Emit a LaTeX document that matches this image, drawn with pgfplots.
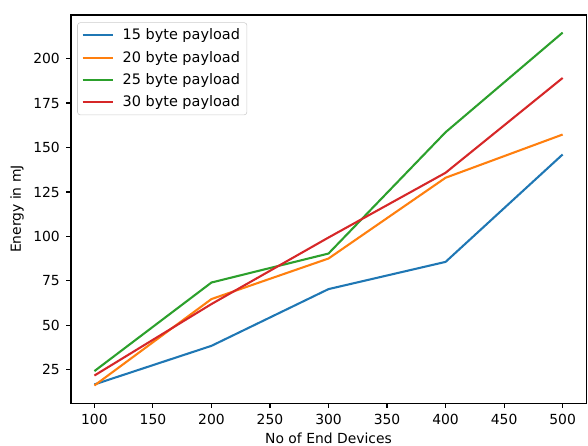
\documentclass[border=0pt]{standalone}
\usepackage{pgfplots}
\pgfplotsset{compat=1.18}
\usepackage{fontspec}
\setmainfont{DejaVu Sans}

\definecolor{mplblue}{HTML}{1F77B4}
\definecolor{mplorange}{HTML}{FF7F0E}
\definecolor{mplgreen}{HTML}{2CA02C}
\definecolor{mplred}{HTML}{D62728}

\begin{document}
\begin{tikzpicture}
    \begin{axis}
    [
        scale only axis,
        width=370.8pt,
        height=279.4pt,
        xmin=80, xmax=520,
        ymin=6.3, ymax=224.5,
        xtick={100,150,...,500},
        ytick={25,50,...,200},
        tick pos=left,
        tick align=outside,
        major tick length=3.5pt,
        every tick/.style={black, line width=0.8pt},
        axis line style={line width=0.8pt},
        /pgf/number format/assume math mode=true,
        tick label style={font=\fontsize{10}{12}\selectfont},
        xticklabel style={yshift=-1pt},
        yticklabel style={xshift=-1pt},
        label style={font=\fontsize{10}{12}\selectfont},
        xlabel style={yshift=1.2pt},
        xlabel={No of End Devices},
        ylabel={Energy in mJ},
        legend cell align=left,
        legend style={
            at={(0,1)}, anchor=north west,
            xshift=4.5pt, yshift=-5.3pt,
            font=\fontsize{10.4}{12.5}\selectfont,
            draw=black!20, rounded corners=2pt,
            row sep=2.6pt, inner xsep=3pt, inner ysep=2.5pt
        },
        legend image code/.code={
            \draw[#1] (0pt,0pt) -- (21.6pt,0pt);
            \path (26pt,0pt);
        },
        every axis plot/.append style={line width=1.5pt, no marks}
    ]
    \addplot[mplblue] coordinates {(100,16.8) (200,38.5) (300,70.4) (400,85.7) (500,146.1)};
    \addlegendentry{15 byte payload}
    \addplot[mplorange] coordinates {(100,16.2) (200,64.8) (300,87.6) (400,133.0) (500,157.3)};
    \addlegendentry{20 byte payload}
    \addplot[mplgreen] coordinates {(100,24.3) (200,74.1) (300,90.4) (400,158.6) (500,214.6)};
    \addlegendentry{25 byte payload}
    \addplot[mplred] coordinates {(100,21.8) (200,62.0) (300,99.4) (400,135.8) (500,189.1)};
    \addlegendentry{30 byte payload}
    \end{axis}
    \pgfresetboundingbox
    \path (current axis.south west) ++(-51.1pt,-30.2pt) coordinate (bbsw);
    \path (current axis.north east) ++(1.4pt,10.8pt) coordinate (bbne);
    \useasboundingbox (bbsw) rectangle (bbne);
\end{tikzpicture}
\end{document}
